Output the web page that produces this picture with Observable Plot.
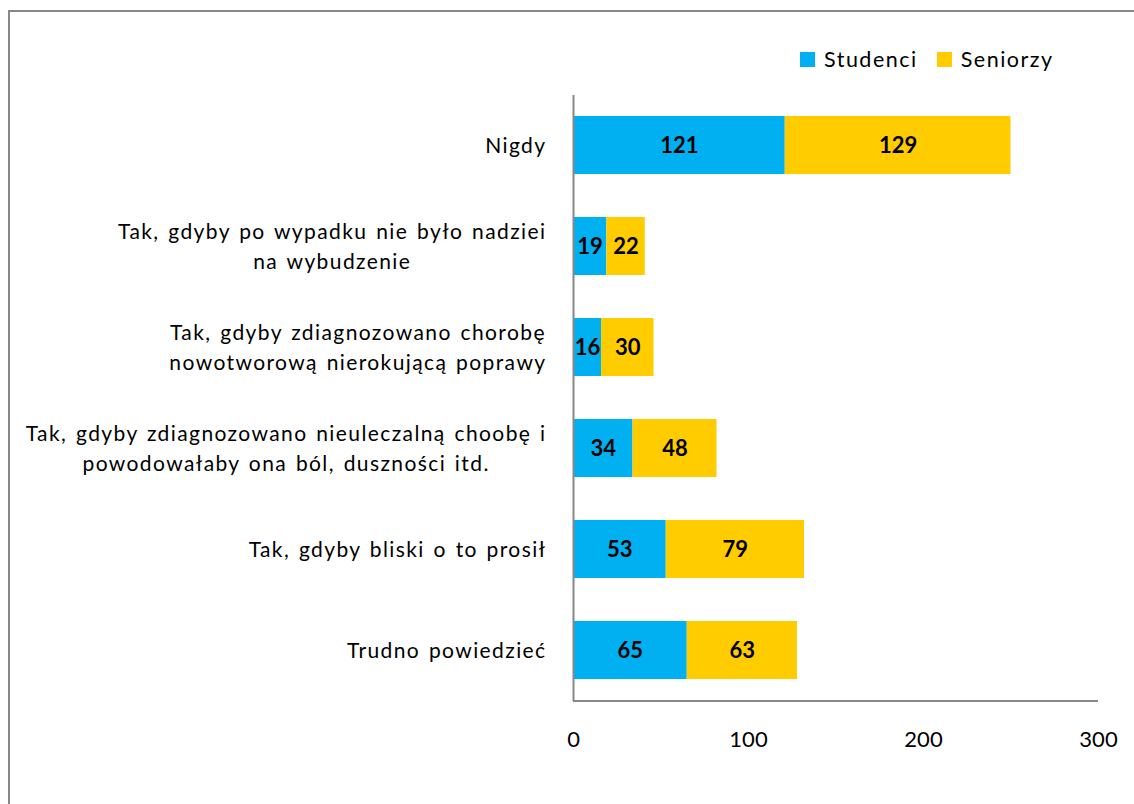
<!DOCTYPE html>
<html><head><meta charset="utf-8">
<script src="https://cdn.jsdelivr.net/npm/d3@7"></script>
<script src="https://cdn.jsdelivr.net/npm/@observablehq/plot@0.6"></script>
<style>
html,body{margin:0;padding:0;overflow:hidden;background:#fff;width:1134px;height:804px;}
#frame{position:absolute;left:8px;top:10px;width:1300px;height:1000px;border-left:2px solid #878787;border-top:2px solid #878787;}
#legend{position:absolute;left:800px;top:47px;height:24px;display:flex;align-items:center;font-family:Lato,sans-serif;font-size:21.5px;letter-spacing:1.5px;color:#000;}
.sw{width:15px;height:15px;margin-right:9px;}
#chart{position:absolute;left:0;top:80px;}
</style></head>
<body>
<div id="frame"></div>
<div id="legend"></div>
<div id="chart"></div>
<script>
const categories = [
  "Nigdy",
  "Tak, gdyby po wypadku nie było nadziei\nna wybudzenie",
  "Tak, gdyby zdiagnozowano chorobę\nnowotworową nierokującą poprawy",
  "Tak, gdyby zdiagnozowano nieuleczalną choobę i\npowodowałaby ona ból, duszności itd.",
  "Tak, gdyby bliski o to prosił",
  "Trudno powiedzieć"
];
const seriesNames = ["Studenci", "Seniorzy"];
const seriesColors = ["#00B0F0", "#FFCC00"];
const studenci = [121, 19, 16, 34, 53, 65];
const seniorzy = [129, 22, 30, 48, 79, 63];
const xTicks = [0, 100, 200, 300];

const rows = [];
categories.forEach((c, i) => {
  rows.push({cat: c, series: seriesNames[0], value: studenci[i]});
  rows.push({cat: c, series: seriesNames[1], value: seniorzy[i]});
});

// legend
const lg = document.getElementById("legend");
seriesNames.forEach((s, i) => {
  const sw = document.createElement("div");
  sw.className = "sw"; sw.style.background = seriesColors[i];
  const t = document.createElement("span");
  t.textContent = s; t.style.marginRight = i === 0 ? "19px" : "0";
  lg.appendChild(sw); lg.appendChild(t);
});

const font = "Lato, sans-serif";
const chart = Plot.plot({
  width: 1134,
  height: 724,
  marginLeft: 573,
  marginRight: 36,
  marginTop: 15,
  marginBottom: 103,
  style: {fontFamily: font, fontSize: "21px", color: "#000", background: "transparent"},
  x: {domain: [0, 300], ticks: xTicks},
  y: {domain: categories, paddingInner: 0.425, paddingOuter: 0.2125},
  color: {domain: seriesNames, range: seriesColors},
  marks: [
    Plot.barX(rows, Plot.stackX({x: "value", y: "cat", fill: "series"})),
    Plot.text(rows, Plot.stackX({x: "value", y: "cat", z: "series", text: d => String(d.value), fontWeight: "bold", fontSize: 22, fill: "#000"})),
    Plot.ruleX([0], {stroke: "#878787", strokeWidth: 2}),
    Plot.ruleY([categories[categories.length - 1]], {x1: 0, x2: 300, dy: 50.5, stroke: "#878787", strokeWidth: 2}),
    Plot.axisX({ticks: xTicks, tickSize: 0, tickPadding: 30, fontSize: 22, label: null}),
    Plot.axisY({tickSize: 0, tickPadding: 27, fontSize: 21, lineHeight: 1.45, dy: -2, label: null})
  ]
});
document.getElementById("chart").appendChild(chart);

// widen spacing like the reference, then center multi-line labels on their widest line (right edge kept)
d3.select(chart).selectAll('g[aria-label="y-axis tick label"] text').each(function() {
  this.style.letterSpacing = "1.4px";
  this.style.wordSpacing = "2px";
  const bb = this.getBBox();
  const w = bb.width;
  const tr = this.getAttribute("transform") || "";
  this.setAttribute("text-anchor", "middle");
  this.setAttribute("transform", tr + ` translate(${-w / 2},0)`);
});
</script>
</body></html>
